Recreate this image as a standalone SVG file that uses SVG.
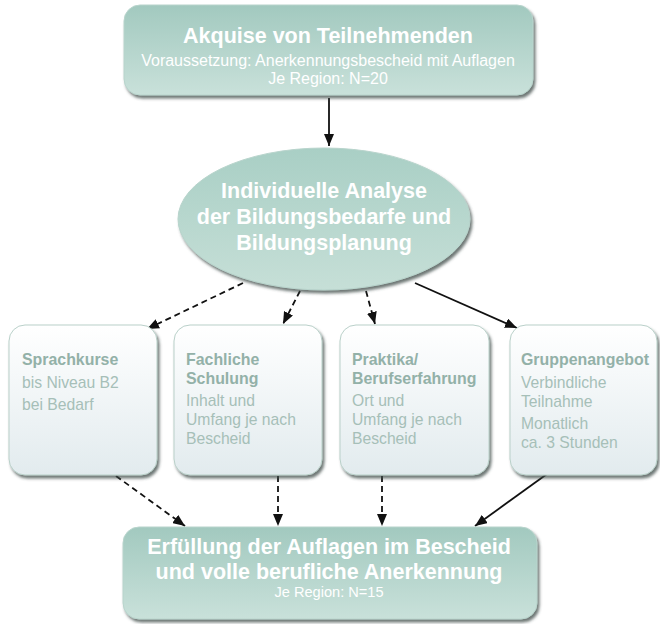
<svg xmlns="http://www.w3.org/2000/svg" width="660" height="624" viewBox="0 0 660 624">
<defs>
<linearGradient id="teal" x1="0" y1="0" x2="0" y2="1">
<stop offset="0" stop-color="#a2c9bf"/>
<stop offset="1" stop-color="#c9e1da"/>
</linearGradient>
<linearGradient id="tealE" x1="0" y1="0" x2="0" y2="1">
<stop offset="0" stop-color="#a9cfc5"/>
<stop offset="1" stop-color="#c6dfd7"/>
</linearGradient>
<linearGradient id="light" x1="0" y1="0" x2="0" y2="1">
<stop offset="0" stop-color="#ffffff"/>
<stop offset="1" stop-color="#e2ebee"/>
</linearGradient>
<filter id="sh" x="-10%" y="-10%" width="125%" height="130%">
<feDropShadow dx="2" dy="3" stdDeviation="1.6" flood-color="#3c4a46" flood-opacity="0.75"/>
</filter>
<marker id="ah" viewBox="0 0 12 10" refX="12" refY="5" markerWidth="12" markerHeight="10" markerUnits="userSpaceOnUse" orient="auto">
<path d="M0,0 L12,5 L0,10 Z" fill="#111"/>
</marker>
</defs>
<style>
.big{fill:url(#teal);stroke:#b8d4cc;stroke-width:1}
.sm{fill:url(#light);stroke:#b9d0c9;stroke-width:1}
.ht{font-family:"Liberation Sans",Arial,sans-serif;fill:#ffffff;text-anchor:middle}
.hb{font-weight:bold;font-size:21.5px}
.hs{font-size:16px}
.bt{font-family:"Liberation Sans",Arial,sans-serif;font-size:15.7px;fill:#a6bfb8}
.bb{font-weight:bold;font-size:15.9px;fill:#93b1a8}
.c{fill:none;stroke:#111;stroke-width:1.8;marker-end:url(#ah)}
.d{stroke-dasharray:6,4}
</style>
<g id="connectors">
<line class="c" x1="329" y1="98" x2="329" y2="146"/>
<line class="c d" x1="243" y1="283" x2="147" y2="329"/>
<line class="c d" x1="300" y1="291" x2="283" y2="324"/>
<line class="c d" x1="366" y1="291" x2="375" y2="324"/>
<line class="c" x1="415" y1="283" x2="517" y2="328"/>
<line class="c d" x1="116" y1="476" x2="185" y2="526"/>
<line class="c d" x1="278" y1="476" x2="278" y2="526"/>
<line class="c d" x1="382" y1="476" x2="382" y2="526"/>
<line class="c" x1="547" y1="474" x2="475" y2="526"/>
</g>
<g id="n_akquise">
<rect class="big" x="124" y="5" width="409" height="90" rx="16" filter="url(#sh)"/>
<text class="ht hb" x="328" y="43">Akquise von Teilnehmenden</text>
<text class="ht hs" x="328" y="66">Voraussetzung: Anerkennungsbescheid mit Auflagen</text>
<text class="ht hs" x="328" y="84">Je Region: N=20</text>
</g>
<g id="n_analyse">
<ellipse cx="324" cy="219" rx="146" ry="71" fill="url(#tealE)" stroke="#b8d4cc" filter="url(#sh)"/>
<text class="ht hb" x="324" y="198">Individuelle Analyse</text>
<text class="ht hb" x="324" y="224">der Bildungsbedarfe und</text>
<text class="ht hb" x="324" y="250">Bildungsplanung</text>
</g>
<g id="n_sprach">
<rect class="sm" x="9" y="325" width="148" height="150" rx="16" filter="url(#sh)"/>
<text class="bt bb" x="22" y="365">Sprachkurse</text>
<text class="bt" x="22" y="388">bis Niveau B2</text>
<text class="bt" x="22" y="410">bei Bedarf</text>
</g>
<g id="n_fach">
<rect class="sm" x="174" y="325" width="148" height="150" rx="16" filter="url(#sh)"/>
<text class="bt bb" x="186" y="365">Fachliche</text>
<text class="bt bb" x="186" y="384">Schulung</text>
<text class="bt" x="186" y="406">Inhalt und</text>
<text class="bt" x="186" y="425">Umfang je nach</text>
<text class="bt" x="186" y="444">Bescheid</text>
</g>
<g id="n_praktika">
<rect class="sm" x="340" y="325" width="149" height="150" rx="16" filter="url(#sh)"/>
<text class="bt bb" x="352" y="365">Praktika/</text>
<text class="bt bb" x="352" y="384">Berufserfahrung</text>
<text class="bt" x="352" y="406">Ort und</text>
<text class="bt" x="352" y="425">Umfang je nach</text>
<text class="bt" x="352" y="444">Bescheid</text>
</g>
<g id="n_gruppe">
<rect class="sm" x="510" y="325" width="147" height="150" rx="16" filter="url(#sh)"/>
<text class="bt bb" x="521" y="365">Gruppenangebot</text>
<text class="bt" x="521" y="388">Verbindliche</text>
<text class="bt" x="521" y="407">Teilnahme</text>
<text class="bt" x="521" y="429">Monatlich</text>
<text class="bt" x="521" y="448">ca. 3 Stunden</text>
</g>
<g id="n_erfuellung">
<rect class="big" x="123" y="527" width="414" height="92" rx="16" filter="url(#sh)"/>
<text class="ht hb" x="329" y="554">Erfüllung der Auflagen im Bescheid</text>
<text class="ht hb" x="329" y="579">und volle berufliche Anerkennung</text>
<text class="ht" x="329" y="597" font-size="14.6">Je Region: N=15</text>
</g>
</svg>
